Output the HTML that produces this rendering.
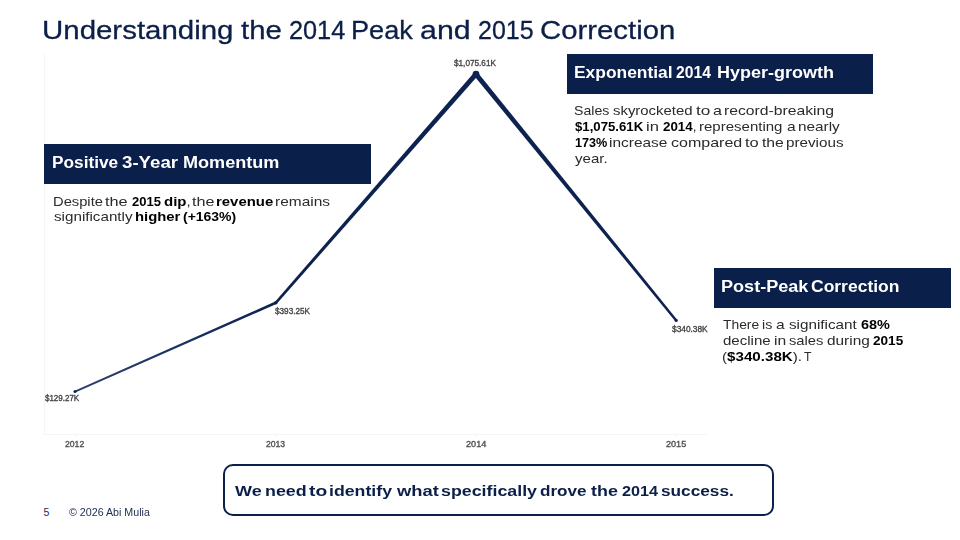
<!DOCTYPE html>
<html>
<head>
<meta charset="utf-8">
<style>
*{margin:0;padding:0;box-sizing:border-box;}
html,body{width:960px;height:540px;overflow:hidden;background:#ffffff;}
body{position:relative;font-family:"Liberation Sans",sans-serif;}
.t{position:absolute;white-space:nowrap;transform-origin:0 0;}
.t b{font-weight:bold;color:#000;}
.hbox{position:absolute;background:#0a1f4a;}
#callout{position:absolute;left:222.6px;top:463.5px;width:551.8px;height:52.8px;border:2px solid #0b1f4b;border-radius:10px;}
</style>
</head>
<body>
<svg style="position:absolute;left:0;top:0" width="960" height="540" viewBox="0 0 960 540">
  <line x1="44.5" y1="53" x2="44.5" y2="435" stroke="#f5f5f5" stroke-width="1"/>
  <line x1="44" y1="434.5" x2="707" y2="434.5" stroke="#f5f5f5" stroke-width="1"/>
  <line x1="75.5" y1="435" x2="75.5" y2="437" stroke="#f3f3f3" stroke-width="1"/>
  <line x1="276.5" y1="435" x2="276.5" y2="437" stroke="#f3f3f3" stroke-width="1"/>
  <line x1="476.5" y1="435" x2="476.5" y2="437" stroke="#f3f3f3" stroke-width="1"/>
  <line x1="676.5" y1="435" x2="676.5" y2="437" stroke="#f3f3f3" stroke-width="1"/>
  <defs><linearGradient id="g1" gradientUnits="userSpaceOnUse" x1="75" y1="391.6" x2="275.8" y2="302.8"><stop offset="0" stop-color="#2d416b"/><stop offset="0.6" stop-color="#1a3060"/><stop offset="1" stop-color="#0b2150"/></linearGradient>
  <filter id="bl" x="-5%" y="-5%" width="110%" height="110%"><feGaussianBlur stdDeviation="0.35"/></filter></defs>
  <g filter="url(#bl)">
  <polygon fill="url(#g1)" points="75.40,392.51 276.33,303.99 275.27,301.61 74.60,390.69"/>
  <g fill="#0b2150">
    <polygon points="276.78,303.66 477.84,75.81 474.16,72.59 274.82,301.94"/>
    <polygon points="474.10,75.75 675.27,321.16 677.13,319.64 477.90,72.65"/>
    <circle cx="75" cy="391.6" r="1.5"/>
    <circle cx="275.8" cy="302.8" r="1.7"/>
    <circle cx="476" cy="74.2" r="3.4"/>
    <circle cx="676.2" cy="320.4" r="1.6"/>
  </g>
  </g>
</svg>

<div class="hbox" style="left:44px;top:144px;width:327px;height:40px;"></div>
<div class="hbox" style="left:567px;top:54px;width:306px;height:40px;"></div>
<div class="hbox" style="left:714px;top:268px;width:237px;height:40px;"></div>
<div id="callout"></div>
<div class="t" id="title_0" style="left:42.48px;top:16.65px;font-size:26.4px;line-height:26.4px;color:#0c1f48;transform:scaleX(1.1153);-webkit-text-stroke:0.3px #0c1f48;">Understanding</div>
<div class="t" id="title_1" style="left:241.16px;top:16.65px;font-size:26.4px;line-height:26.4px;color:#0c1f48;transform:scaleX(1.1108);-webkit-text-stroke:0.3px #0c1f48;">the</div>
<div class="t" id="title_2" style="left:288.69px;top:16.65px;font-size:26.4px;line-height:26.4px;color:#0c1f48;transform:scaleX(0.9577);-webkit-text-stroke:0.3px #0c1f48;">2014</div>
<div class="t" id="title_3" style="left:351.40px;top:16.65px;font-size:26.4px;line-height:26.4px;color:#0c1f48;transform:scaleX(1.0272);-webkit-text-stroke:0.3px #0c1f48;">Peak</div>
<div class="t" id="title_4" style="left:419.58px;top:16.65px;font-size:26.4px;line-height:26.4px;color:#0c1f48;transform:scaleX(1.1498);-webkit-text-stroke:0.3px #0c1f48;">and</div>
<div class="t" id="title_5" style="left:477.86px;top:16.65px;font-size:26.4px;line-height:26.4px;color:#0c1f48;transform:scaleX(0.9471);-webkit-text-stroke:0.3px #0c1f48;">2015</div>
<div class="t" id="title_6" style="left:540.29px;top:16.65px;font-size:26.4px;line-height:26.4px;color:#0c1f48;transform:scaleX(1.1115);-webkit-text-stroke:0.3px #0c1f48;">Correction</div>
<div class="t" id="h1_0" style="left:51.57px;top:154.93px;font-size:15.8px;line-height:15.8px;font-weight:bold;color:#fff;transform:scaleX(1.0926);">Positive</div>
<div class="t" id="h1_1" style="left:122.07px;top:154.93px;font-size:15.8px;line-height:15.8px;font-weight:bold;color:#fff;transform:scaleX(1.1822);">3-Year</div>
<div class="t" id="h1_2" style="left:182.92px;top:154.93px;font-size:15.8px;line-height:15.8px;font-weight:bold;color:#fff;transform:scaleX(1.1446);">Momentum</div>
<div class="t" id="h2_0" style="left:574.13px;top:64.63px;font-size:15.8px;line-height:15.8px;font-weight:bold;color:#fff;transform:scaleX(1.1017);">Exponential</div>
<div class="t" id="h2_1" style="left:675.72px;top:64.63px;font-size:15.8px;line-height:15.8px;font-weight:bold;color:#fff;transform:scaleX(0.9929);">2014</div>
<div class="t" id="h2_2" style="left:716.90px;top:64.63px;font-size:15.8px;line-height:15.8px;font-weight:bold;color:#fff;transform:scaleX(1.1392);">Hyper-growth</div>
<div class="t" id="h3_0" style="left:721.30px;top:278.63px;font-size:15.8px;line-height:15.8px;font-weight:bold;color:#fff;transform:scaleX(1.1443);">Post-Peak</div>
<div class="t" id="h3_1" style="left:811.38px;top:278.63px;font-size:15.8px;line-height:15.8px;font-weight:bold;color:#fff;transform:scaleX(1.1071);">Correction</div>
<div class="t" id="b1l1_0" style="left:52.58px;top:194.73px;font-size:13.2px;line-height:13.2px;color:#2b2b2b;transform:scaleX(1.1165);">Despite</div>
<div class="t" id="b1l1_1" style="left:105.06px;top:194.73px;font-size:13.2px;line-height:13.2px;color:#2b2b2b;transform:scaleX(1.2333);">the</div>
<div class="t" id="b1l1_2" style="left:131.62px;top:194.73px;font-size:13.2px;line-height:13.2px;color:#2b2b2b;transform:scaleX(0.9864);"><b>2015</b></div>
<div class="t" id="b1l1_3" style="left:163.65px;top:194.73px;font-size:13.2px;line-height:13.2px;color:#2b2b2b;transform:scaleX(1.1387);"><b>dip</b>,</div>
<div class="t" id="b1l1_4" style="left:192.44px;top:194.73px;font-size:13.2px;line-height:13.2px;color:#2b2b2b;transform:scaleX(1.2262);">the</div>
<div class="t" id="b1l1_5" style="left:216.35px;top:194.73px;font-size:13.2px;line-height:13.2px;color:#2b2b2b;transform:scaleX(1.1308);"><b>revenue</b></div>
<div class="t" id="b1l1_6" style="left:275.18px;top:194.73px;font-size:13.2px;line-height:13.2px;color:#2b2b2b;transform:scaleX(1.1733);">remains</div>
<div class="t" id="b1l2_0" style="left:53.55px;top:210.23px;font-size:13.2px;line-height:13.2px;color:#2b2b2b;transform:scaleX(1.1523);">significantly</div>
<div class="t" id="b1l2_1" style="left:134.57px;top:210.23px;font-size:13.2px;line-height:13.2px;color:#2b2b2b;transform:scaleX(1.1258);"><b>higher</b></div>
<div class="t" id="b1l2_2" style="left:183.47px;top:210.23px;font-size:13.2px;line-height:13.2px;color:#2b2b2b;transform:scaleX(1.0593);"><b>(+163%)</b></div>
<div class="t" id="b2l1_0" style="left:573.65px;top:104.03px;font-size:13.2px;line-height:13.2px;color:#2b2b2b;transform:scaleX(1.0714);">Sales</div>
<div class="t" id="b2l1_1" style="left:612.94px;top:104.03px;font-size:13.2px;line-height:13.2px;color:#2b2b2b;transform:scaleX(1.1305);">skyrocketed</div>
<div class="t" id="b2l1_2" style="left:695.51px;top:104.03px;font-size:13.2px;line-height:13.2px;color:#2b2b2b;transform:scaleX(1.3021);">to</div>
<div class="t" id="b2l1_3" style="left:712.78px;top:104.03px;font-size:13.2px;line-height:13.2px;color:#2b2b2b;transform:scaleX(1.2134);">a</div>
<div class="t" id="b2l1_4" style="left:724.43px;top:104.03px;font-size:13.2px;line-height:13.2px;color:#2b2b2b;transform:scaleX(1.1912);">record-breaking</div>
<div class="t" id="b2l2_0" style="left:574.71px;top:119.53px;font-size:13.2px;line-height:13.2px;color:#2b2b2b;transform:scaleX(1.0001);"><b>$1,075.61K</b></div>
<div class="t" id="b2l2_1" style="left:645.89px;top:119.53px;font-size:13.2px;line-height:13.2px;color:#2b2b2b;transform:scaleX(1.2575);">in</div>
<div class="t" id="b2l2_2" style="left:662.98px;top:119.53px;font-size:13.2px;line-height:13.2px;color:#2b2b2b;transform:scaleX(1.0130);"><b>2014</b>,</div>
<div class="t" id="b2l2_3" style="left:698.86px;top:119.53px;font-size:13.2px;line-height:13.2px;color:#2b2b2b;transform:scaleX(1.1380);">representing</div>
<div class="t" id="b2l2_4" style="left:786.60px;top:119.53px;font-size:13.2px;line-height:13.2px;color:#2b2b2b;transform:scaleX(1.1824);">a</div>
<div class="t" id="b2l2_5" style="left:797.98px;top:119.53px;font-size:13.2px;line-height:13.2px;color:#2b2b2b;transform:scaleX(1.1623);">nearly</div>
<div class="t" id="b2l3_0" style="left:574.74px;top:135.73px;font-size:13.2px;line-height:13.2px;color:#2b2b2b;transform:scaleX(0.9568);"><b>173%</b></div>
<div class="t" id="b2l3_1" style="left:608.84px;top:135.73px;font-size:13.2px;line-height:13.2px;color:#2b2b2b;transform:scaleX(1.1709);">increase</div>
<div class="t" id="b2l3_2" style="left:670.81px;top:135.73px;font-size:13.2px;line-height:13.2px;color:#2b2b2b;transform:scaleX(1.2141);">compared</div>
<div class="t" id="b2l3_3" style="left:744.88px;top:135.73px;font-size:13.2px;line-height:13.2px;color:#2b2b2b;transform:scaleX(1.2454);">to</div>
<div class="t" id="b2l3_4" style="left:761.66px;top:135.73px;font-size:13.2px;line-height:13.2px;color:#2b2b2b;transform:scaleX(1.1910);">the</div>
<div class="t" id="b2l3_5" style="left:785.94px;top:135.73px;font-size:13.2px;line-height:13.2px;color:#2b2b2b;transform:scaleX(1.1542);">previous</div>
<div class="t" id="b2l4_0" style="left:575.49px;top:151.73px;font-size:13.2px;line-height:13.2px;color:#2b2b2b;transform:scaleX(1.1413);">year.</div>
<div class="t" id="b3l1_0" style="left:723.45px;top:318.33px;font-size:13.2px;line-height:13.2px;color:#2b2b2b;transform:scaleX(1.0486);">There</div>
<div class="t" id="b3l1_1" style="left:761.96px;top:318.33px;font-size:13.2px;line-height:13.2px;color:#2b2b2b;transform:scaleX(1.0804);">is</div>
<div class="t" id="b3l1_2" style="left:776.43px;top:318.33px;font-size:13.2px;line-height:13.2px;color:#2b2b2b;transform:scaleX(1.1803);">a</div>
<div class="t" id="b3l1_3" style="left:789.42px;top:318.33px;font-size:13.2px;line-height:13.2px;color:#2b2b2b;transform:scaleX(1.1554);">significant</div>
<div class="t" id="b3l1_4" style="left:860.92px;top:318.33px;font-size:13.2px;line-height:13.2px;color:#2b2b2b;transform:scaleX(1.0965);"><b>68%</b></div>
<div class="t" id="b3l2_0" style="left:722.80px;top:334.13px;font-size:13.2px;line-height:13.2px;color:#2b2b2b;transform:scaleX(1.1408);">decline</div>
<div class="t" id="b3l2_1" style="left:773.80px;top:334.13px;font-size:13.2px;line-height:13.2px;color:#2b2b2b;transform:scaleX(1.1859);">in</div>
<div class="t" id="b3l2_2" style="left:789.43px;top:334.13px;font-size:13.2px;line-height:13.2px;color:#2b2b2b;transform:scaleX(1.1180);">sales</div>
<div class="t" id="b3l2_3" style="left:827.36px;top:334.13px;font-size:13.2px;line-height:13.2px;color:#2b2b2b;transform:scaleX(1.1661);">during</div>
<div class="t" id="b3l2_4" style="left:873.46px;top:334.13px;font-size:13.2px;line-height:13.2px;color:#2b2b2b;transform:scaleX(1.0291);"><b>2015</b></div>
<div class="t" id="b3l3_0" style="left:721.81px;top:349.73px;font-size:13.2px;line-height:13.2px;color:#2b2b2b;transform:scaleX(1.1493);">(<b>$340.38K</b>).</div>
<div class="t" id="b3l3_1" style="left:803.98px;top:349.73px;font-size:13.2px;line-height:13.2px;color:#2b2b2b;transform:scaleX(0.9220);">T</div>
<div class="t" id="call_0" style="left:235.36px;top:483.08px;font-size:15.5px;line-height:15.5px;font-weight:bold;color:#0c1f48;transform:scaleX(1.1608);">We</div>
<div class="t" id="call_1" style="left:264.84px;top:483.08px;font-size:15.5px;line-height:15.5px;font-weight:bold;color:#0c1f48;transform:scaleX(1.1517);">need</div>
<div class="t" id="call_2" style="left:309.44px;top:483.08px;font-size:15.5px;line-height:15.5px;font-weight:bold;color:#0c1f48;transform:scaleX(1.2405);">to</div>
<div class="t" id="call_3" style="left:329.40px;top:483.08px;font-size:15.5px;line-height:15.5px;font-weight:bold;color:#0c1f48;transform:scaleX(1.1433);">identify</div>
<div class="t" id="call_4" style="left:396.87px;top:483.08px;font-size:15.5px;line-height:15.5px;font-weight:bold;color:#0c1f48;transform:scaleX(1.1846);">what</div>
<div class="t" id="call_5" style="left:440.70px;top:483.08px;font-size:15.5px;line-height:15.5px;font-weight:bold;color:#0c1f48;transform:scaleX(1.1486);">specifically</div>
<div class="t" id="call_6" style="left:539.90px;top:483.08px;font-size:15.5px;line-height:15.5px;font-weight:bold;color:#0c1f48;transform:scaleX(1.1045);">drove</div>
<div class="t" id="call_7" style="left:590.92px;top:483.08px;font-size:15.5px;line-height:15.5px;font-weight:bold;color:#0c1f48;transform:scaleX(1.1543);">the</div>
<div class="t" id="call_8" style="left:621.73px;top:483.08px;font-size:15.5px;line-height:15.5px;font-weight:bold;color:#0c1f48;transform:scaleX(1.0451);">2014</div>
<div class="t" id="call_9" style="left:661.09px;top:483.08px;font-size:15.5px;line-height:15.5px;font-weight:bold;color:#0c1f48;transform:scaleX(1.1118);">success.</div>
<div class="t" id="f5" style="left:43.60px;top:507.01px;font-size:10.5px;line-height:10.5px;color:#1c2b4e;transform:scaleX(1.0000);">5</div>
<div class="t" id="fc" style="left:68.53px;top:507.01px;font-size:10.5px;line-height:10.5px;color:#1c2b4e;transform:scaleX(1.0170);">&copy; 2026 Abi Mulia</div>
<div class="t" id="l2012v" style="left:45.45px;top:394.15px;font-size:8.8px;line-height:8.8px;color:#444;transform:scaleX(0.9063);-webkit-text-stroke:0.35px #444;">$129.27K</div>
<div class="t" id="l2013v" style="left:274.95px;top:307.15px;font-size:8.8px;line-height:8.8px;color:#444;transform:scaleX(0.9288);-webkit-text-stroke:0.35px #444;">$393.25K</div>
<div class="t" id="l2014v" style="left:454.45px;top:58.65px;font-size:8.8px;line-height:8.8px;color:#444;transform:scaleX(0.9324);-webkit-text-stroke:0.35px #444;">$1,075.61K</div>
<div class="t" id="l2015v" style="left:671.62px;top:324.55px;font-size:8.8px;line-height:8.8px;color:#444;transform:scaleX(0.9462);-webkit-text-stroke:0.35px #444;">$340.38K</div>
<div class="t" id="x2012" style="left:64.94px;top:439.85px;font-size:8.8px;line-height:8.8px;color:#505050;transform:scaleX(0.9834);-webkit-text-stroke:0.35px #505050;">2012</div>
<div class="t" id="x2013" style="left:265.92px;top:439.85px;font-size:8.8px;line-height:8.8px;color:#505050;transform:scaleX(0.9782);-webkit-text-stroke:0.35px #505050;">2013</div>
<div class="t" id="x2014" style="left:465.97px;top:439.85px;font-size:8.8px;line-height:8.8px;color:#505050;transform:scaleX(1.0354);-webkit-text-stroke:0.35px #505050;">2014</div>
<div class="t" id="x2015" style="left:666.02px;top:439.85px;font-size:8.8px;line-height:8.8px;color:#505050;transform:scaleX(1.0325);-webkit-text-stroke:0.35px #505050;">2015</div>
</body>
</html>
